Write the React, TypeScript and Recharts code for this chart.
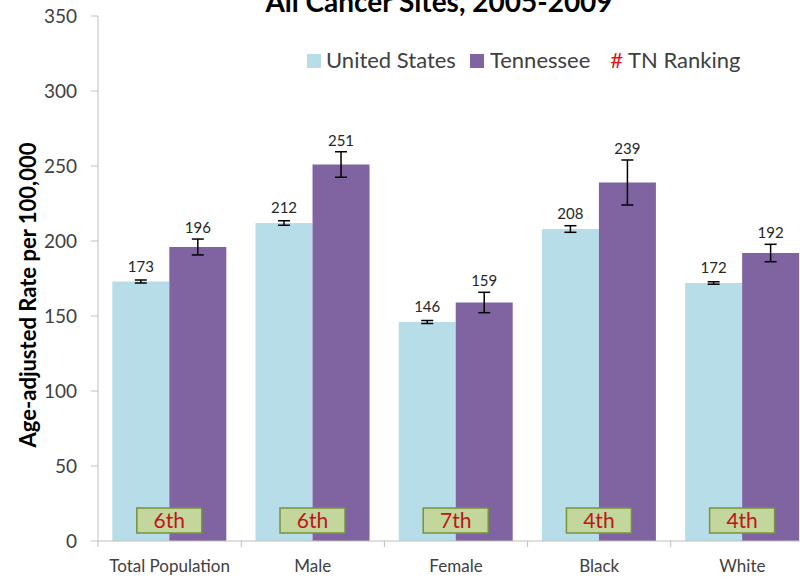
import React from 'react';
import { BarChart, Bar, XAxis, YAxis, ErrorBar, LabelList, Legend, Label } from 'recharts';

const categories = ['Total Population', 'Male', 'Female', 'Black', 'White'];
const usRates = [173, 212, 146, 208, 172];
const tnRates = [196, 251, 159, 239, 192];
const usErrors = [1, 1.5, 1, 2.2, 0.8];
const tnErrors = [5.3, 8.5, 6.8, 15, 5.8];
const tnRankings = ['6th', '6th', '7th', '4th', '4th'];
const yTicks = [0, 50, 100, 150, 200, 250, 300, 350];

const data = categories.map((c, i) => ({
  category: c,
  us: usRates[i],
  tn: tnRates[i],
  usErr: usErrors[i],
  tnErr: tnErrors[i],
  rank: tnRankings[i],
}));

const FONT = 'Lato, "Open Sans", sans-serif';
const US_COLOR = '#b7dee8';
const TN_COLOR = '#8064a2';
const AXIS_COLOR = '#bfbfbf';
const TEXT_COLOR = '#404040';

const makeValueLabel = (errs: number[]) => (props: any) => {
  const { x, y, width, height, value, index } = props;
  const pxPerUnit = height / value;
  const errPx = errs[index] * pxPerUnit;
  const off = Math.max(15, errPx + 11);
  return (
    <text
      x={x + width / 2}
      y={y - off}
      dy={5}
      textAnchor="middle"
      fontFamily={FONT}
      fontSize={15}
      fill="#262626"
    >
      {value}
    </text>
  );
};

const RankLabel = (props: any) => {
  const { x, y, height, index } = props;
  const bottom = y + height;
  return (
    <g>
      <rect
        x={x - 32.5}
        y={bottom - 33}
        width={65}
        height={25}
        fill="#c3d69b"
        stroke="#77933c"
        strokeWidth={1.5}
      />
      <text
        x={x}
        y={bottom - 20.5}
        dy={7.5}
        textAnchor="middle"
        fontFamily={FONT}
        fontSize={21}
        fill="#c0141b"
      >
        {tnRankings[index]}
      </text>
    </g>
  );
};

const XTick = (props: any) => {
  const { x, y, payload } = props;
  return (
    <g>
      <line x1={x - 71.6} x2={x - 71.6} y1={y} y2={y + 6} stroke={AXIS_COLOR} strokeWidth={1} />
      <text x={x} y={y + 31} textAnchor="middle" fontFamily={FONT} fontSize={17} fill={TEXT_COLOR}>
        {payload.value}
      </text>
    </g>
  );
};

const LegendContent = () => (
  <div style={{ display: 'flex', alignItems: 'center', fontFamily: FONT, fontSize: 22, color: TEXT_COLOR, whiteSpace: 'nowrap' }}>
    <span style={{ display: 'inline-block', width: 14, height: 14, background: US_COLOR, marginRight: 5, marginTop: 3 }} />
    <span style={{ marginRight: 14 }}>United States</span>
    <span style={{ display: 'inline-block', width: 14, height: 14, background: TN_COLOR, marginRight: 6, marginTop: 3 }} />
    <span style={{ marginRight: 20 }}>Tennessee</span>
    <span style={{ color: '#e0141b', marginRight: 5 }}>#</span>
    <span>TN Ranking</span>
  </div>
);

const YLabel = () => (
  <text
    x={27}
    y={295}
    transform="rotate(-90 27 295)"
    textAnchor="middle"
    dominantBaseline="central"
    fontFamily={FONT}
    fontWeight="bold"
    fontSize={22}
    fill="#000"
  >
    Age-adjusted Rate per 100,000
  </text>
);

export default function App() {
  return (
    <div style={{ position: 'absolute', left: 0, top: 0, width: 800, height: 578, overflow: 'hidden', background: '#fff' }}>
      <div
        style={{
          position: 'absolute',
          left: 0,
          width: 878,
          top: -14,
          textAlign: 'center',
          fontFamily: FONT,
          fontWeight: 'bold',
          fontSize: 28,
          color: '#000',
          lineHeight: '30px',
          whiteSpace: 'nowrap',
        }}
      >
        All Cancer Sites, 2005-2009
      </div>
      <BarChart
        width={826}
        height={578}
        data={data}
        margin={{ top: 16, right: 12, bottom: 7, left: 0 }}
        barCategoryGap="10%"
        barGap={0}
      >
        <XAxis
          dataKey="category"
          tickSize={0}
          tickMargin={0}
          tick={<XTick />}
          axisLine={{ stroke: AXIS_COLOR }}
          height={30}
          interval={0}
        />
        <YAxis
          domain={[0, 350]}
          ticks={yTicks}
          width={98}
          tickSize={7}
          tickMargin={14}
          axisLine={{ stroke: AXIS_COLOR }}
          tickLine={{ stroke: AXIS_COLOR }}
          tick={{ fontFamily: FONT, fontSize: 19, fill: TEXT_COLOR }}
          interval={0}
        >
          <Label content={<YLabel />} />
        </YAxis>
        <Legend
          verticalAlign="middle"
          align="center"
          content={<LegendContent />}
          wrapperStyle={{ top: 46, left: 307, width: 'auto' }}
        />
        <Bar dataKey="us" name="United States" fill={US_COLOR} isAnimationActive={false}>
          <ErrorBar dataKey="usErr" direction="y" width={6} stroke="#000" strokeWidth={1.5} isAnimationActive={false} />
          <LabelList dataKey="us" content={makeValueLabel(usErrors)} />
        </Bar>
        <Bar dataKey="tn" name="Tennessee" fill={TN_COLOR} isAnimationActive={false}>
          <ErrorBar dataKey="tnErr" direction="y" width={6} stroke="#000" strokeWidth={1.5} isAnimationActive={false} />
          <LabelList dataKey="tn" content={makeValueLabel(tnErrors)} />
          <LabelList dataKey="rank" content={<RankLabel />} />
        </Bar>
      </BarChart>
    </div>
  );
}
